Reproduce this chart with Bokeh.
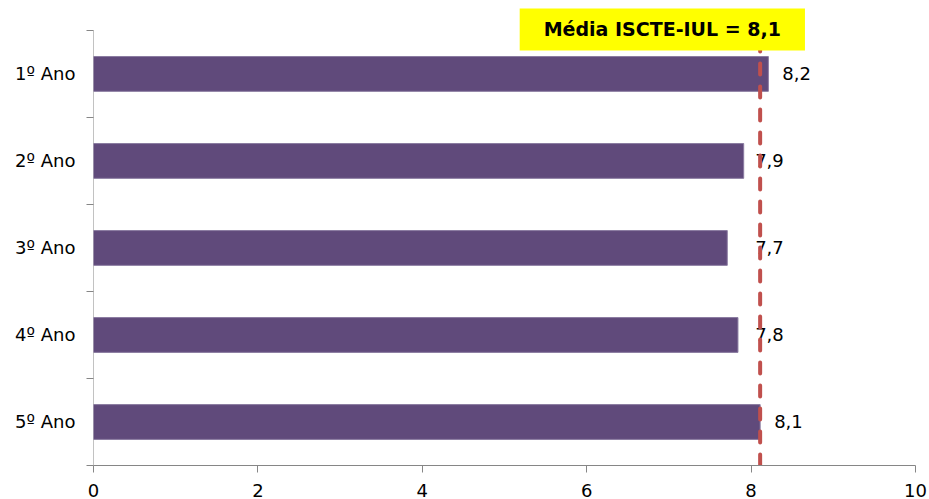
from bokeh.plotting import figure
from bokeh.models import ColumnDataSource, Range1d, FixedTicker, Label
from bokeh.core.properties import value
from bokeh.embed import file_html
from bokeh.resources import INLINE

categories = ["1º Ano", "2º Ano", "3º Ano", "4º Ano", "5º Ano"]
scores = [8.21, 7.91, 7.71, 7.84, 8.11]
score_labels = ["8,2", "7,9", "7,7", "7,8", "8,1"]
mean_value = 8.11
mean_label = "Média ISCTE-IUL = 8,1"
x_ticks = [0, 2, 4, 6, 8, 10]

FONT = "DejaVu Sans"
AXIS_COLOR = "#868686"
n = len(categories)
centers = [n - i - 0.5 for i in range(n)]

# layout (pixels)
W, H = 929, 499
LEFT, RIGHT, BOTTOM = 93, 14, 33
FRAME_H = H - BOTTOM           # frame from top of canvas
CAT_H = 436                    # pixels used by the categories
y_top = n * FRAME_H / CAT_H

label_x = [max(v, mean_value) for v in scores]
label_off = [14 if v >= mean_value else -5 for v in scores]

src = ColumnDataSource(dict(
    y=centers, right=scores, lx=label_x, loff=label_off, txt=score_labels,
))

p = figure(width=W, height=H, output_backend="svg", toolbar_location=None,
           x_range=Range1d(0, 10), y_range=Range1d(0, y_top),
           min_border_left=LEFT, min_border_right=RIGHT, min_border_top=0,
           min_border_bottom=BOTTOM)
p.outline_line_color = None
p.xgrid.grid_line_color = None
p.ygrid.grid_line_color = None
p.background_fill_color = "white"

# y axis line drawn only over the category area
p.segment(x0=[0], y0=[0], x1=[0], y1=[n], line_color=AXIS_COLOR, line_width=1)

p.hbar(y="y", left=0, right="right", height=0.4, source=src,
       fill_color="#604A7B", line_color="#8A7BA0", line_width=1)

p.text(x="lx", y="y", text="txt", x_offset="loff", source=src,
       text_align="left", text_baseline="middle",
       text_font=value(FONT), text_font_size="18px", text_color="black")

p.segment(x0=[mean_value], y0=[0], x1=[mean_value], y1=[n],
          line_color="#C0504D", line_width=4, line_dash="11 12",
          line_cap="round")

box = Label(x=6.92, y=n, text=mean_label, text_align="center",
            text_baseline="middle", text_font=FONT, text_font_size="19px",
            text_font_style="bold", text_color="black",
            background_fill_color="#FFFF00", padding=(24, 10),
            y_offset=1)
p.add_layout(box)

# x axis
p.xaxis.ticker = FixedTicker(ticks=x_ticks)
p.xaxis.axis_line_color = AXIS_COLOR
p.xaxis.major_tick_line_color = AXIS_COLOR
p.xaxis.major_tick_out = 7
p.xaxis.major_tick_in = 0
p.xaxis.minor_tick_line_color = None
p.xaxis.major_label_text_font = FONT
p.xaxis.major_label_text_font_size = "18px"
p.xaxis.major_label_text_color = "black"
p.xaxis.major_label_standoff = 11

# y axis
p.yaxis.ticker = FixedTicker(ticks=centers, minor_ticks=list(range(n + 1)))
p.yaxis.major_label_overrides = {c: cat for c, cat in zip(centers, categories)}
p.yaxis.axis_line_color = None
p.yaxis.major_tick_line_color = None
p.yaxis.major_tick_out = 0
p.yaxis.major_tick_in = 0
p.yaxis.minor_tick_line_color = AXIS_COLOR
p.yaxis.minor_tick_out = 7
p.yaxis.minor_tick_in = 0
p.yaxis.major_label_text_font = FONT
p.yaxis.major_label_text_font_size = "18px"
p.yaxis.major_label_text_color = "black"
p.yaxis.major_label_standoff = 11

open("out.html", "w").write(file_html(p, INLINE))
